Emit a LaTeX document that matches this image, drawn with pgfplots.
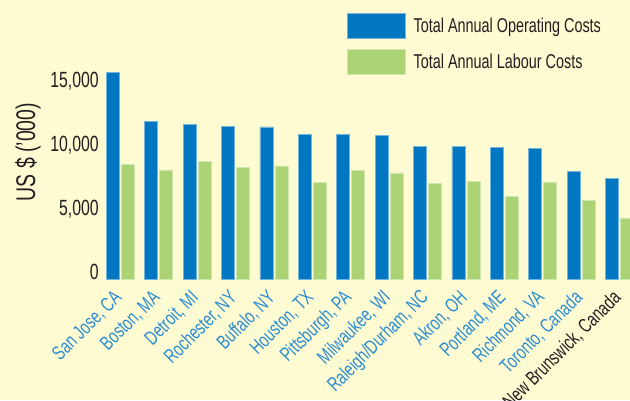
\documentclass[border=0pt]{standalone}
\usepackage{pgfplots}
\pgfplotsset{compat=1.18}
\usepackage{fontspec}
\setmainfont{Liberation Sans}[FakeStretch=0.72]
\definecolor{bg}{HTML}{FEFAD2}
\definecolor{opblue}{HTML}{0077C0}
\definecolor{labgreen}{HTML}{ACD373}
\definecolor{lblblue}{HTML}{2A8DD4}
\definecolor{txt}{HTML}{231F20}
\begin{document}
\begin{tikzpicture}[x=1pt,y=1pt]
\useasboundingbox (0,0) rectangle (630,400);
\fill[bg] (0,0) rectangle (630,400);
\clip (0,0) rectangle (630,400);
\begin{axis}[
  anchor=origin, at={(120.3pt,121pt)},
  x=38.4pt, y=0.0128pt,
  xmin=-0.62, xmax=13.6, ymin=0, ymax=21797,
  axis line style={draw=none},
  major tick length=0pt,
  ybar=2pt, bar width=13pt,
  ytick={0,5000,10000,15000},
  /pgf/number format/.cd, 1000 sep={,}, assume math mode=true,
  /pgfplots/.cd,
  scaled y ticks=false,
  yticklabel style={anchor=base east, inner xsep=0pt, xshift=2.5pt, text=txt, font=\fontsize{22}{22}\selectfont},
  ylabel={US \$ ('000)},
  ylabel style={at={(axis description cs:-0.1254,0.455)}, anchor=center, text=txt, font=\fontsize{27}{27}\selectfont},
  xtick={0,...,13},
  xticklabels={{San Jose, CA}, {Boston, MA}, {Detroit, MI}, {Rochester, NY}, {Buffalo, NY}, {Houston, TX}, {Pittsburgh, PA}, {Milwaukee, WI}, {Raleigh/Durham, NC}, {Akron, OH}, {Portland, ME}, {Richmond, VA}, {Toronto, Canada}, {\textcolor{txt}{New Brunswick, Canada}}},
  xticklabel style={yshift=-15pt, xshift=-1pt, rotate=45, anchor=east, inner sep=1pt, text=lblblue, font=\fontsize{20}{20}\selectfont},
  legend image code/.code={\fill[#1] (0pt,-12.5pt) rectangle (58pt,12.5pt);},
  legend style={at={(axis description cs:0.4587,0.9534)}, anchor=north west, draw=none, fill=none, inner sep=0pt, outer sep=0pt, row sep=10pt, column sep=8pt, nodes={inner sep=0pt, text=txt}, font=\fontsize{20}{20}\selectfont},
  legend cell align=left,
]
\addplot[fill=opblue, draw=opblue!55!white, line width=0.7pt] coordinates {
 (0,16150) (1,12340) (2,12080) (3,11930) (4,11880) (5,11270) (6,11270)
 (7,11230) (8,10390) (9,10390) (10,10260) (11,10210) (12,8380) (13,7840)};
\addplot[fill=labgreen, draw=labgreen!55!white, line width=0.7pt] coordinates {
 (0,8960) (1,8520) (2,9190) (3,8750) (4,8830) (5,7550) (6,8460)
 (7,8290) (8,7470) (9,7630) (10,6480) (11,7580) (12,6150) (13,4770)};
\legend{Total Annual Operating Costs, Total Annual Labour Costs}
\end{axis}
\end{tikzpicture}
\end{document}
